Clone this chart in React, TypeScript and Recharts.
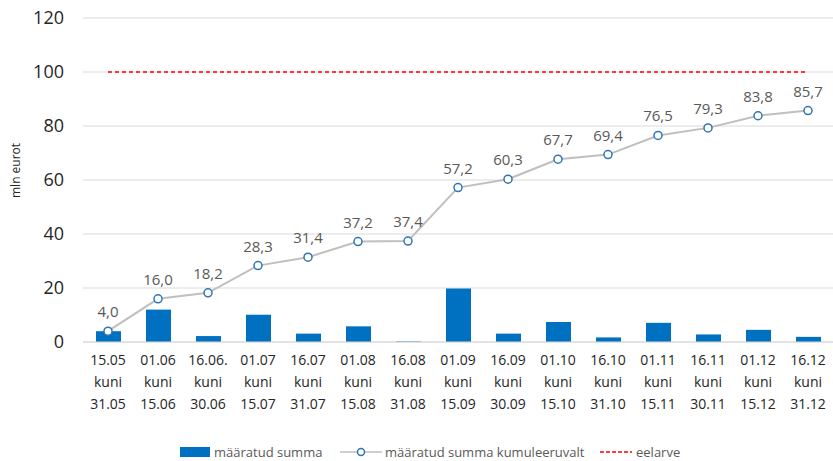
import { ComposedChart, Bar, Line, XAxis, YAxis, CartesianGrid, LabelList } from 'recharts'

const periodStart = ['15.05', '01.06', '16.06.', '01.07', '16.07', '01.08', '16.08', '01.09', '16.09', '01.10', '16.10', '01.11', '16.11', '01.12', '16.12']
const periodEnd = ['31.05', '15.06', '30.06', '15.07', '31.07', '15.08', '31.08', '15.09', '30.09', '15.10', '31.10', '15.11', '30.11', '15.12', '31.12']
const amounts = [4.0, 12.0, 2.2, 10.1, 3.1, 5.8, 0.2, 19.8, 3.1, 7.4, 1.7, 7.1, 2.8, 4.5, 1.9]
const cumulative = [4.0, 16.0, 18.2, 28.3, 31.4, 37.2, 37.4, 57.2, 60.3, 67.7, 69.4, 76.5, 79.3, 83.8, 85.7]
const budget = 100
const yTicks = [0, 20, 40, 60, 80, 100, 120]

const FONT = '"Open Sans", "Noto Sans", sans-serif'
const BLUE = '#0070C0'

const data = periodStart.map((s, i) => ({
  key: `${s}|${periodEnd[i]}`,
  amount: amounts[i],
  cum: cumulative[i],
  budget,
}))

const fmt = (v: number) => v.toFixed(1).replace('.', ',')

function XTick({ x, y, payload }: any) {
  const [a, b] = String(payload.value).split('|')
  return (
    <g transform={`translate(${x},${y})`}>
      <text textAnchor="middle" fill="#262626" fontSize={14} fontFamily={FONT}>
        <tspan x={0} dy={23}>{a}</tspan>
        <tspan x={0} dy={22}>kuni</tspan>
        <tspan x={0} dy={22}>{b}</tspan>
      </text>
    </g>
  )
}

function ChartLegend() {
  const txt = { position: 'absolute' as const, top: 0, fontSize: 13, color: '#595959', fontFamily: FONT, whiteSpace: 'nowrap' as const, display: 'flex', alignItems: 'center', gap: 4, height: 18 }
  return (
    <div style={{ position: 'absolute', left: 0, top: 443, width: 833, height: 18 }}>
      <span style={{ ...txt, left: 180 }}>
        <span style={{ width: 30, height: 10, background: BLUE, display: 'inline-block' }} />määratud summa
      </span>
      <span style={{ ...txt, left: 340, gap: 3 }}>
        <svg width={42} height={10}>
          <line x1={0} y1={5} x2={42} y2={5} stroke="#BFBFBF" strokeWidth={1.5} />
          <circle cx={21} cy={5} r={3.5} fill="#fff" stroke="#2E75B6" strokeWidth={1.5} />
        </svg>
        määratud summa kumuleeruvalt
      </span>
      <span style={{ ...txt, left: 600 }}>
        <svg width={32} height={10}>
          <line x1={0} y1={5} x2={32} y2={5} stroke="#FF0000" strokeWidth={1.5} strokeDasharray="4 2" />
        </svg>
        eelarve
      </span>
    </div>
  )
}

export default function App() {
  return (
    <div style={{ position: 'absolute', left: 0, top: 0, width: 833, height: 461, background: '#fff', fontFamily: FONT }}>
      <ComposedChart width={833} height={461} data={data} margin={{ top: 18, right: 0, left: 0, bottom: 0 }} barCategoryGap="50%">
        <CartesianGrid vertical={false} stroke="#D9D9D9" />
        <XAxis dataKey="key" tick={<XTick />} tickLine={false} axisLine={{ stroke: '#D9D9D9' }} interval={0} height={119} tickSize={0} tickMargin={0} />
        <YAxis domain={[0, 120]} ticks={yTicks} axisLine={false} tickLine={false} width={83} tickSize={0} tickMargin={19}
          tick={{ fontSize: 18, fill: '#262626', fontFamily: FONT }}
          label={{ value: 'mln eurot', angle: -90, position: 'insideLeft', offset: 16, dy: 18, style: { fontSize: 12, fill: '#262626', fontFamily: FONT } }} />
        <Bar dataKey="amount" fill={BLUE} barSize={25} isAnimationActive={false} />
        <Line dataKey="cum" stroke="#BFBFBF" strokeWidth={2} isAnimationActive={false}
          dot={{ r: 4, fill: '#fff', stroke: '#2E75B6', strokeWidth: 1.5 }}>
          <LabelList dataKey="cum" position="top" offset={14} formatter={(v: any) => fmt(Number(v))}
            style={{ fontSize: 15, fill: '#595959', fontFamily: FONT }} />
        </Line>
        <Line dataKey="budget" stroke="#FF0000" strokeWidth={1.5} strokeDasharray="4 3" dot={false} isAnimationActive={false} />
      </ComposedChart>
      <ChartLegend />
    </div>
  )
}
